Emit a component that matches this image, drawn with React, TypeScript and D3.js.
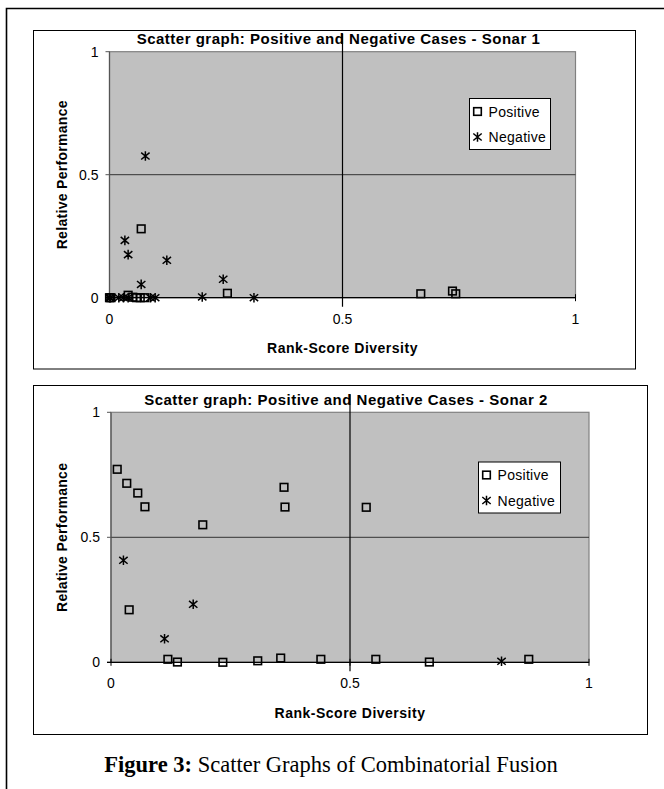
import React from "react";
import * as d3 from "d3";

// ---- data ----
const xTicks = [0, 0.5, 1];
const yTicks = [0, 0.5, 1];
const xTickLabels = ["0", "0.5", "1"];
const yTickLabels = ["0", "0.5", "1"];
const seriesNames = ["Positive", "Negative"];
const chartTitles = [
  "Scatter graph: Positive and Negative Cases - Sonar 1",
  "Scatter graph: Positive and Negative Cases - Sonar 2",
];
const xAxisTitle = "Rank-Score Diversity";
const yAxisTitle = "Relative Performance";

const sonar1Positive: [number, number][] = [
  [0, 0], [0.003, 0], [0.04, 0.01], [0.05, 0.002], [0.058, 0], [0.066, 0], [0.076, 0],
  [0.068, 0.28], [0.253, 0.018], [0.668, 0.016], [0.736, 0.027], [0.743, 0.016],
];
const sonar1Negative: [number, number][] = [
  [0, 0], [0.002, 0], [0.02, 0], [0.03, 0], [0.04, 0], [0.088, 0], [0.098, 0],
  [0.033, 0.233], [0.04, 0.175], [0.077, 0.576], [0.123, 0.152], [0.068, 0.054],
  [0.244, 0.075], [0.199, 0.003], [0.31, 0],
];
const sonar2Positive: [number, number][] = [
  [0.013, 0.772], [0.033, 0.716], [0.056, 0.677], [0.071, 0.622], [0.362, 0.7],
  [0.364, 0.621], [0.534, 0.62], [0.192, 0.55], [0.038, 0.21], [0.119, 0.012],
  [0.139, 0.001], [0.234, 0], [0.307, 0.006], [0.355, 0.017], [0.439, 0.012],
  [0.554, 0.012], [0.666, 0.001], [0.874, 0.012],
];
const sonar2Negative: [number, number][] = [
  [0.026, 0.408], [0.112, 0.094], [0.172, 0.232], [0.817, 0.004],
];

// ---- layout ----
type Layout = {
  box: { x: number; y: number; w: number; h: number };
  plot: { left: number; right: number; top: number; bottom: number };
  legend: { x: number; y: number; w: number; h: number };
};
const layouts: Layout[] = [
  {
    box: { x: 33.5, y: 30.5, w: 602, h: 338.5 },
    plot: { left: 109.5, right: 575.5, top: 51.7, bottom: 297.7 },
    legend: { x: 469.5, y: 98.5, w: 81, h: 51 },
  },
  {
    box: { x: 33.5, y: 385.5, w: 614, h: 349 },
    plot: { left: 111, right: 589, top: 412.3, bottom: 662.3 },
    legend: { x: 478.5, y: 462, w: 82, h: 51 },
  },
];

const SANS = "'Liberation Sans', Arial, Helvetica, sans-serif";
const SERIF = "'Liberation Serif', 'Times New Roman', serif";

function SquareMarker({ x, y }: { x: number; y: number }) {
  const s = 7.6;
  return (
    <rect x={x - s / 2} y={y - s / 2} width={s} height={s} fill="none" stroke="#000" strokeWidth={1.6} />
  );
}
function StarMarker({ x, y }: { x: number; y: number }) {
  const h = 4.8;
  const w = 4.2;
  const d = `M${x - w},${y - h * 0.72}L${x + w},${y + h * 0.72}M${x - w},${y + h * 0.72}L${x + w},${y - h * 0.72}M${x},${y - h}L${x},${y + h}`;
  return <path d={d} stroke="#000" strokeWidth={1.5} fill="none" />;
}

function Chart({
  layout,
  title,
  positive,
  negative,
}: {
  layout: Layout;
  title: string;
  positive: [number, number][];
  negative: [number, number][];
}) {
  const { box, plot, legend } = layout;
  const x = d3.scaleLinear().domain([0, 1]).range([plot.left, plot.right]);
  const y = d3.scaleLinear().domain([0, 1]).range([plot.bottom, plot.top]);
  const cx = (plot.left + plot.right) / 2;
  const cy = (plot.top + plot.bottom) / 2;
  return (
    <g>
      <rect x={box.x} y={box.y} width={box.w} height={box.h} fill="#fff" stroke="#000" strokeWidth={1} />
      {/* plot area */}
      <rect
        x={plot.left}
        y={plot.top}
        width={plot.right - plot.left}
        height={plot.bottom - plot.top}
        fill="#c0c0c0"
        stroke="#808080"
        strokeWidth={1.2}
      />
      {/* horizontal line at 0.5 */}
      <line x1={x(0)} x2={x(1)} y1={y(0.5)} y2={y(0.5)} stroke="#333" strokeWidth={1} />
      {/* y axis */}
      <line x1={x(0)} x2={x(0)} y1={y(0)} y2={y(1)} stroke="#555" strokeWidth={1.2} />
      {yTicks.map((t, i) => (
        <g key={"yt" + i}>
          <line x1={x(0) - 4} x2={x(0)} y1={y(t)} y2={y(t)} stroke="#555" strokeWidth={1} />
          <text
            x={x(0) - 11}
            y={y(t)}
            dy="0.36em"
            textAnchor="end"
            fontFamily={SANS}
            fontSize={14}
            fill="#000"
          >
            {yTickLabels[i]}
          </text>
        </g>
      ))}
      {/* x axis */}
      <line x1={x(0) - 4} x2={x(1)} y1={y(0)} y2={y(0)} stroke="#000" strokeWidth={1.2} />
      {xTicks.map((t, i) => (
        <g key={"xt" + i}>
          <line x1={x(t)} x2={x(t)} y1={y(0) - 3.5} y2={y(0) + 3.5} stroke="#000" strokeWidth={1} />
          <text
            x={x(t)}
            y={y(0) + 26}
            textAnchor="middle"
            fontFamily={SANS}
            fontSize={14}
            fill="#000"
          >
            {xTickLabels[i]}
          </text>
        </g>
      ))}
      {/* vertical line at 0.5 */}
      <line x1={x(0.5)} x2={x(0.5)} y1={plot.top - 18} y2={y(0) + 9} stroke="#000" strokeWidth={1.2} />
      {/* markers */}
      {positive.map((p, i) => (
        <SquareMarker key={"p" + i} x={x(p[0])} y={y(p[1])} />
      ))}
      {negative.map((p, i) => (
        <StarMarker key={"n" + i} x={x(p[0])} y={y(p[1])} />
      ))}
      {/* title */}
      <text
        x={cx - 4}
        y={plot.top - 7.5}
        textAnchor="middle"
        fontFamily={SANS}
        fontWeight="bold"
        fontSize={15}
        letterSpacing={0.5}
        fill="#000"
      >
        {title}
      </text>
      {/* axis titles */}
      <text
        x={cx}
        y={y(0) + 55.5}
        textAnchor="middle"
        fontFamily={SANS}
        fontWeight="bold"
        fontSize={14}
        letterSpacing={0.5}
        fill="#000"
      >
        {xAxisTitle}
      </text>
      <text
        transform={`translate(${box.x + 33},${cy}) rotate(-90)`}
        textAnchor="middle"
        fontFamily={SANS}
        fontWeight="bold"
        fontSize={14}
        letterSpacing={0.3}
        fill="#000"
      >
        {yAxisTitle}
      </text>
      {/* legend */}
      <rect x={legend.x} y={legend.y} width={legend.w} height={legend.h} fill="#fff" stroke="#000" strokeWidth={1} />
      <SquareMarker x={legend.x + 8} y={legend.y + 13} />
      <StarMarker x={legend.x + 8} y={legend.y + 38.5} />
      {seriesNames.map((n, i) => (
        <text
          key={n}
          x={legend.x + 19}
          y={legend.y + 13 + i * 25.5}
          dy="0.36em"
          fontFamily={SANS}
          fontSize={14}
          letterSpacing={0.3}
          fill="#000"
        >
          {n}
        </text>
      ))}
    </g>
  );
}

export default function App() {
  return (
    <svg
      width={664}
      height={789}
      style={{ position: "absolute", left: 0, top: 0, background: "#fff" }}
    >
      <rect x={0} y={0} width={664} height={789} fill="#fff" />
      {/* outer frame */}
      <path d="M6.5,800 L6.5,8.5 L670,8.5" fill="none" stroke="#000" strokeWidth={1.6} />
      <Chart layout={layouts[0]} title={chartTitles[0]} positive={sonar1Positive} negative={sonar1Negative} />
      <Chart layout={layouts[1]} title={chartTitles[1]} positive={sonar2Positive} negative={sonar2Negative} />
      <text x={331} y={772} textAnchor="middle" fontFamily={SERIF} fontSize={22.5} fill="#000">
        <tspan fontWeight="bold">Figure 3:</tspan> Scatter Graphs of Combinatorial Fusion
      </text>
    </svg>
  );
}
